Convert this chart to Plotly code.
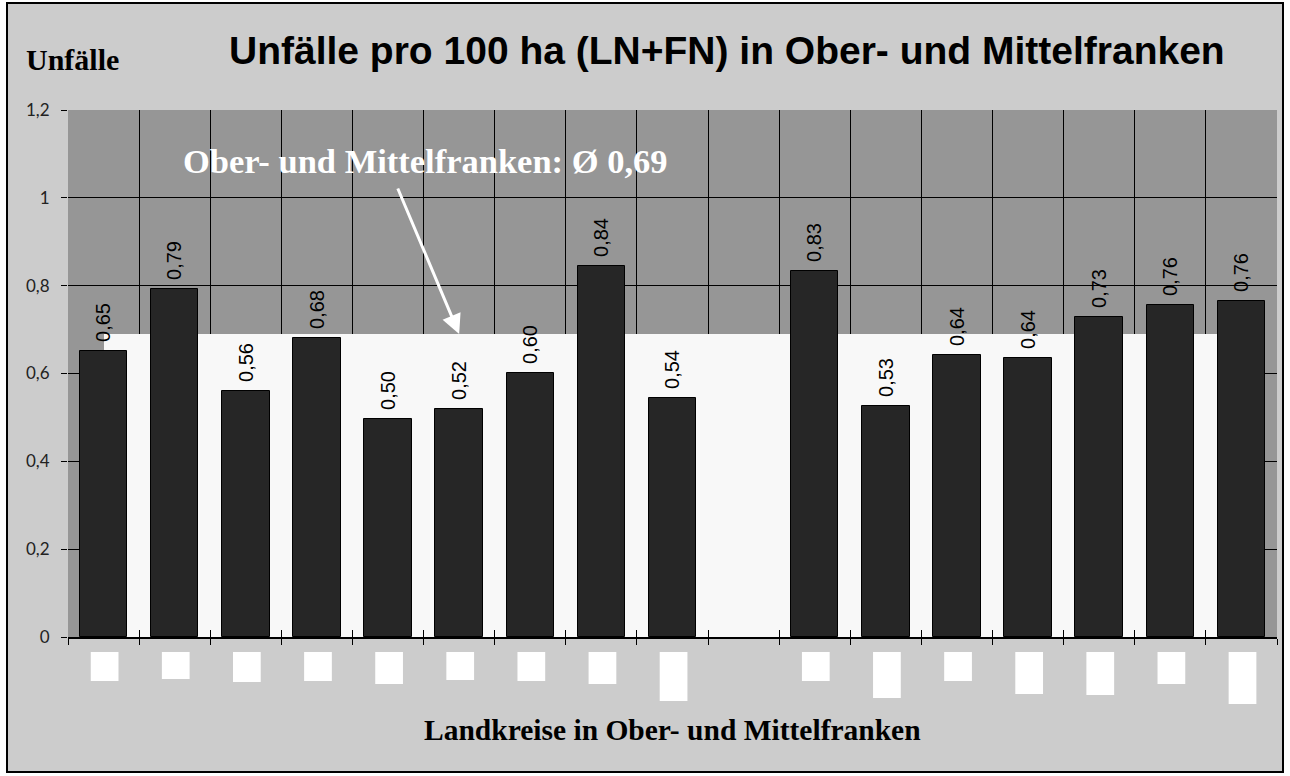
import plotly.graph_objects as go

# ---------------- data ----------------
categories = [
    "Bamberg", "Bayreuth", "Coburg", "Forchheim", "Hof", "Kronach",
    "Kulmbach", "Lichtenfels", "Wunsiedel", " ",
    "Ansbach", "Erlangen-Höchstadt", "Fürth", "Nürnberger Land",
    "Neustadt/Aisch-Bad Windsheim", "Roth", "Weißenburg-Gunzenhausen",
]
values = [0.651, 0.792, 0.561, 0.680, 0.497, 0.519, 0.601, 0.844, 0.544, None,
          0.834, 0.527, 0.642, 0.636, 0.728, 0.757, 0.764]
average = 0.69
y_ticks = [0, 0.2, 0.4, 0.6, 0.8, 1.0, 1.2]

title_text = "Unfälle pro 100 ha (LN+FN) in Ober- und Mittelfranken"
y_title = "Unfälle"
x_title = "Landkreise in Ober- und Mittelfranken"
avg_text = "Ober- und Mittelfranken: Ø 0,69"

# heights (px) of the white label boxes under the axis (style only)
label_box_heights = [29, 27, 30, 29, 32, 28, 29, 32, 49, 0, 29, 46, 29, 42, 43, 32, 52]

# ---------------- layout geometry ----------------
W, H = 1290, 776
L, R, T, B = 68, 13, 110, 139
PW, PH = W - L - R, H - T - B


def px(xp):
    return (xp - L) / PW


def py(yp):
    return (H - B - yp) / PH


labels = ["" if v is None else "\u00a0" + f"{v:.2f}".replace(".", ",") for v in values]
n = len(categories)

fig = go.Figure()

# average band (area behind bars, from first to last category centre)
fig.add_trace(go.Bar(
    x=[categories[(n - 1) // 2]], y=[average], width=[n - 1],
    marker=dict(color="#f8f8f8", line=dict(width=0)),
    hoverinfo="skip", showlegend=False,
))

fig.add_trace(go.Bar(
    x=categories, y=values, width=0.667,
    marker=dict(color="#262626", line=dict(color="#000000", width=1)),
    text=labels, textposition="outside", textangle=-90,
    textfont=dict(family="Liberation Sans, Arial", size=20, color="#000000"),
    cliponaxis=False, showlegend=False,
))

# dummy trace for the overlaid axes (inner half of the cross ticks)
fig.add_trace(go.Scatter(x=categories, y=[None] * n, xaxis="x2", yaxis="y2",
                         showlegend=False, hoverinfo="skip"))

shapes = []
# white label boxes under the x axis
for i, h in enumerate(label_box_heights):
    if h <= 0:
        continue
    shapes.append(dict(
        type="rect", xref="x", yref="paper", ysizemode="pixel", yanchor=0,
        x0=i - 0.18, x1=i + 0.21, y0=-15, y1=-15 - h,
        fillcolor="#ffffff", line=dict(width=0), layer="above",
    ))
# white margins outside the chart frame
for (a, b, c, d) in [(0, 0, 7, H), (0, 0, W, 3), (1283, 0, W, H), (0, 772, W, H)]:
    shapes.append(dict(type="rect", xref="paper", yref="paper",
                       x0=px(a), x1=px(c), y0=py(d), y1=py(b),
                       fillcolor="#ffffff", line=dict(width=0), layer="above"))
# chart frame
shapes.append(dict(type="rect", xref="paper", yref="paper",
                   x0=px(7), x1=px(1283), y0=py(772), y1=py(3),
                   line=dict(color="#000000", width=2), fillcolor="rgba(0,0,0,0)"))

annotations = [
    dict(text=title_text, xref="paper", yref="paper", x=px(727), y=py(51),
         xanchor="center", yanchor="middle", showarrow=False,
         font=dict(family="Liberation Sans, Arial", size=39, color="#000000", weight="bold")),
    dict(text=y_title, xref="paper", yref="paper", x=px(24), y=py(59),
         xanchor="left", yanchor="middle", showarrow=False,
         font=dict(family="Liberation Serif, Times New Roman", size=30, color="#000000", weight="bold")),
    dict(text=x_title, xref="paper", yref="paper", x=0.5, y=py(730),
         xanchor="center", yanchor="middle", showarrow=False,
         font=dict(family="Liberation Serif, Times New Roman", size=29.5, color="#000000", weight="bold")),
    dict(text=avg_text, xref="paper", yref="paper", x=px(425), y=py(161),
         xanchor="center", yanchor="middle", showarrow=False,
         font=dict(family="Liberation Serif, Times New Roman", size=34.5, color="#ffffff", weight="bold")),
    dict(text="", xref="x", yref="y", x=5, y=average, ax=-62, ay=-147,
         showarrow=True, arrowhead=2, arrowsize=1.3, arrowwidth=3, arrowcolor="#ffffff"),
]

fig.update_layout(
    width=W, height=H,
    margin=dict(l=L, r=R, t=T, b=B, pad=0),
    paper_bgcolor="#cccccc", plot_bgcolor="#969696",
    barmode="overlay", bargap=0,
    separators=",.",
    showlegend=False,
    shapes=shapes, annotations=annotations,
    xaxis=dict(type="category", categoryorder="array", categoryarray=categories,
               range=[-0.5, n - 0.5], tickson="boundaries",
               ticks="outside", ticklen=6, tickwidth=1, tickcolor="#000000",
               showticklabels=False, showgrid=True, gridcolor="#000000", gridwidth=1,
               showline=True, linecolor="#000000", linewidth=2, zeroline=False),
    yaxis=dict(range=[0, 1.2], tickvals=y_ticks, ticks="outside", ticklen=6,
               tickwidth=1, tickcolor="#000000", ticklabelstandoff=8,
               tickfont=dict(family="Lato, Open Sans", size=17, color="#222222"),
               showgrid=True, gridcolor="#000000", gridwidth=1,
               showline=False, zeroline=False),
    xaxis2=dict(type="category", categoryorder="array", categoryarray=categories,
                range=[-0.5, n - 0.5], tickson="boundaries", overlaying="x",
                anchor="y2", ticks="inside", ticklen=7, tickwidth=1, tickcolor="#000000",
                showticklabels=False, showgrid=False, showline=False, zeroline=False),
    yaxis2=dict(range=[0, 1.2], tickvals=y_ticks, overlaying="y", anchor="x2",
                ticks="inside", ticklen=7, tickwidth=1, tickcolor="#000000",
                showticklabels=False, showgrid=False, showline=False, zeroline=False),
)

fig.write_html(
    "out.html",
    config={"displayModeBar": False},
    post_script="document.body.style.margin='0';document.body.style.overflow='hidden';",
)
